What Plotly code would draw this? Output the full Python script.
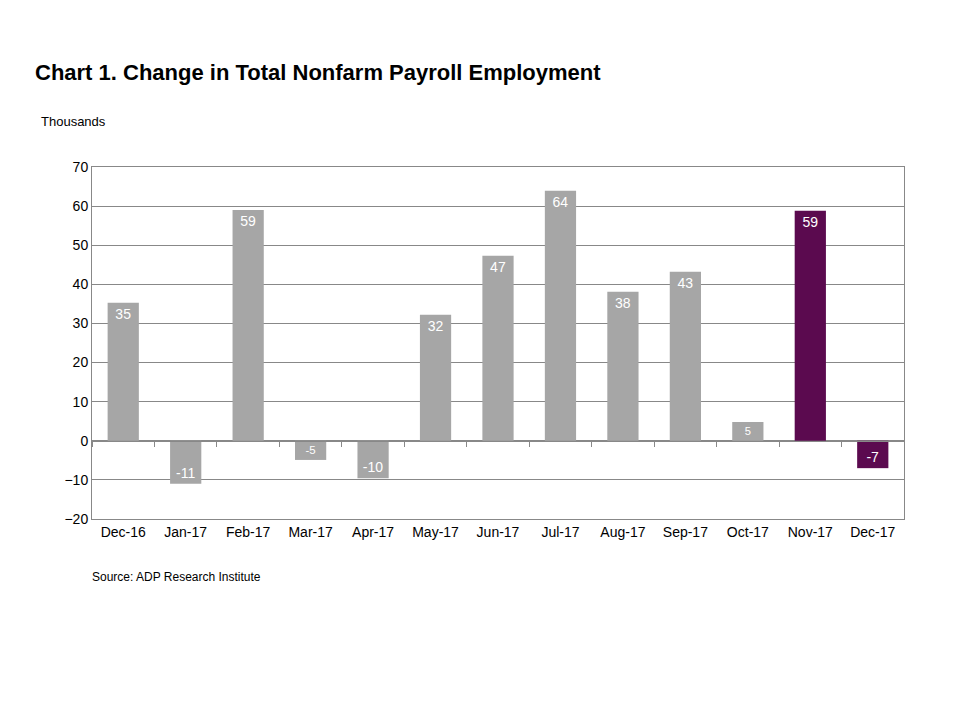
import plotly.graph_objects as go

months = ["Dec-16","Jan-17","Feb-17","Mar-17","Apr-17","May-17","Jun-17","Jul-17","Aug-17","Sep-17","Oct-17","Nov-17","Dec-17"]
values = [35.3, -11, 59, -4.9, -9.6, 32.2, 47.3, 63.9, 38.1, 43.2, 4.8, 58.8, -7]
labels = ["35","-11","59","-5","-10","32","47","64","38","43","5","59","-7"]
colors = ["#A6A6A6"]*11 + ["#5B0A4F"]*2
yticks = [-20,-10,0,10,20,30,40,50,60,70]

L, R, T, B = 84, 64, 159, 209
fig = go.Figure()
fig.add_trace(go.Bar(x=months, y=values, text=labels, marker_color=colors,
                     marker_line_width=0, width=0.5,
                     textposition="inside", insidetextanchor="end", textangle=0,
                     textfont=dict(color="white", size=14, family="Liberation Sans"),
                     cliponaxis=False, hoverinfo="skip"))
fig.add_trace(go.Scatter(x=months, y=[0]*13, xaxis="x2", mode="lines",
                         line=dict(color="rgba(0,0,0,0)"), hoverinfo="skip", showlegend=False))
fig.update_layout(
    width=960, height=720, plot_bgcolor="white", paper_bgcolor="white",
    showlegend=False, margin=dict(l=L, r=R, t=T, b=B),
    font=dict(family="Liberation Sans", color="#000"),
    xaxis=dict(showline=True, linecolor="#888", mirror=True, ticks="", tickfont=dict(size=14)),
    xaxis2=dict(overlaying="x", anchor="free", position=20/90, showline=True, linecolor="#888",
                ticks="outside", tickson="boundaries", ticklen=5, tickcolor="#888",
                showticklabels=False, showgrid=False, matches="x"),
    yaxis=dict(range=[-20,70], tickvals=yticks, showgrid=True, gridcolor="#888",
               showline=True, linecolor="#888", mirror=True, zeroline=False,
               tickfont=dict(size=14), ticks=""),
    bargap=0.5,
)
W, H = 960-L-R, 720-T-B
def px(x, y):
    # reference pixel -> paper coords (page offset of 8px accounted for)
    return (x-8-L)/W, (720-B-(y-8))/H
anns = [("<b>Chart 1. Change in Total Nonfarm Payroll Employment</b>", 33, 73, 22),
        ("Thousands", 39, 121, 13),
        ("Source: ADP Research Institute", 90, 577, 12)]
for text, x, y, s in anns:
    fx, fy = px(x, y)
    fig.add_annotation(text=text, x=fx, y=fy, xref="paper", yref="paper", showarrow=False,
                       xanchor="left", yanchor="middle", font=dict(size=s))
fig.write_html("out.html")
